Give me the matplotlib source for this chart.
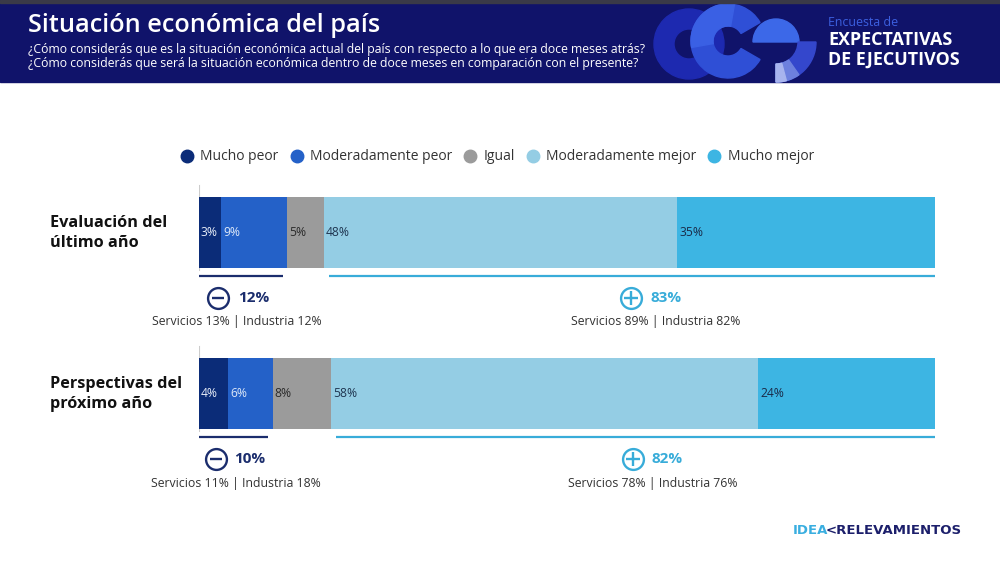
import matplotlib
matplotlib.use("Agg")
import matplotlib.pyplot as plt
from matplotlib.patches import Rectangle, Wedge
from matplotlib.lines import Line2D

plt.rcParams['font.family'] = ['Open Sans', 'DejaVu Sans']

# ---------------- data ----------------
rows = ["Evaluación del\núltimo año", "Perspectivas del\npróximo año"]
categories = ["Mucho peor", "Moderadamente peor", "Igual", "Moderadamente mejor", "Mucho mejor"]
values = [
    [3, 9, 5, 48, 35],
    [4, 6, 8, 58, 24],
]
neg_totals = [12, 10]
pos_totals = [83, 82]
neg_breakdown = ["Servicios 13% | Industria 12%", "Servicios 11% | Industria 18%"]
pos_breakdown = ["Servicios 89% | Industria 82%", "Servicios 78% | Industria 76%"]

title = "Situación económica del país"
subtitle1 = "¿Cómo considerás que es la situación económica actual del país con respecto a lo que era doce meses atrás?"
subtitle2 = "¿Cómo considerás que será la situación económica dentro de doce meses en comparación con el presente?"

# ---------------- style / layout ----------------
colors = ["#0b2c78", "#2461c8", "#9b9b9b", "#94cde4", "#3db5e3"]
label_colors = ["#e8eef8", "#dde8f8", "#2a2a2a", "#1f3550", "#1a2a48"]
navy = "#1b2d6d"
lblue = "#38acd9"
header_bg = "#10136a"
# annotation x positions (in % axis units): icon, value, breakdown center
neg_pos = [(2.6, 5.3, 5.2), (2.3, 4.8, 5.0)]
pos_pos = [(58.7, 61.3, 62.0), (59.0, 61.5, 61.7)]

W, H = 1000, 569
fig = plt.figure(figsize=(W / 100, H / 100), dpi=100)
fig.patch.set_facecolor("white")

# overlay axes in pixel coordinates for decoration (y grows downward)
fa = fig.add_axes([0, 0, 1, 1])
fa.set_xlim(0, W)
fa.set_ylim(H, 0)
fa.axis("off")

# header band
fa.add_patch(Rectangle((0, 0), W, 82, color=header_bg, zorder=0))
fa.add_patch(Rectangle((0, 0), W, 2.5, color="#3a3a48", zorder=5))
# logo shapes (approximate; angles measured with y pointing down)
fa.add_patch(Wedge((689, 44), 35, 0, 360, width=20, color="#1d29b0", zorder=1))
fa.add_patch(Wedge((728, 41), 37, 30, 330, width=22, color="#2f4fd6", zorder=2))
fa.add_patch(Wedge((728, 41), 37, 170, 280, width=22, color="#3a60e4", zorder=2))
fa.add_patch(Wedge((776, 42), 23, 180, 360, color="#3c68e8", zorder=3))
fa.add_patch(Wedge((776, 42), 40, 0, 90, width=18, color="#3447cc", zorder=3))
fa.add_patch(Wedge((776, 42), 40, 55, 90, width=18, color="#6d80de", zorder=3))
fa.add_patch(Wedge((776, 42), 40, 75, 90, width=18, color="#a8b4ee", zorder=3))

fa.text(28, 25, title, color="white", fontsize=18.2, fontweight="semibold", va="center", ha="left")
fa.text(28, 49, subtitle1, color="white", fontsize=8.8, va="center", ha="left")
fa.text(28, 63, subtitle2, color="white", fontsize=8.8, va="center", ha="left")
fa.text(828, 22, "Encuesta de", color="#3c5fe0", fontsize=8.9, va="center", ha="left")
fa.text(828, 40, "EXPECTATIVAS", color="white", fontsize=12.9, fontweight="bold", va="center", ha="left")
fa.text(828, 60, "DE EJECUTIVOS", color="white", fontsize=12.9, fontweight="bold", va="center", ha="left")

# footer logo
fa.text(793, 530, "IDEA", color="#3aaee0", fontsize=9.5, fontweight="bold", va="center", ha="left",
        family="DejaVu Sans")
fa.text(826, 530, "<RELEVAMIENTOS", color="#1c1f6b", fontsize=9.5, fontweight="bold", va="center", ha="left",
        family="DejaVu Sans")

# ---------------- bar axes ----------------
x0, x1 = 199, 935
yt, yb = 150, 500
ax = fig.add_axes([x0 / W, 1 - yb / H, (x1 - x0) / W, (yb - yt) / H])
ax.set_xlim(0, 100)
ax.set_ylim(yb, yt)
ax.axis("off")
ax.patch.set_alpha(0)

row_y = [232.5, 393.5]
bar_h = 71

for r, (yc, vals) in enumerate(zip(row_y, values)):
    left = 0
    for k, v in enumerate(vals):
        ax.barh(yc, v, left=left, height=bar_h, color=colors[k], zorder=2)
        ax.text(left + 0.25, yc, f"{v}%", color=label_colors[k], fontsize=8.7,
                va="center", ha="left", zorder=3)
        left += v
    # thin axis tick line
    ax.plot([0, 0], [yc - bar_h / 2 - 12, yc + bar_h / 2 + 2], color="#cccccc", lw=0.8, zorder=1)
    ybot = yc + bar_h / 2
    neg = neg_totals[r]
    pos = pos_totals[r]
    # underline brackets
    ax.plot([0, neg - 0.6], [ybot + 8, ybot + 8], color=navy, lw=1.6, solid_capstyle="butt")
    ax.plot([100 - pos + 0.6, 100], [ybot + 8, ybot + 8], color=lblue, lw=1.6, solid_capstyle="butt")
    cy = ybot + 30
    # negative summary
    ix, vx, bx = neg_pos[r]
    ax.plot(ix, cy, marker="o", ms=15, mfc="none", mec=navy, mew=1.7, clip_on=False)
    ax.plot(ix, cy, marker="_", ms=8.5, mec=navy, mew=1.7, clip_on=False)
    ax.text(vx, cy, f"{neg}%", color=navy, fontsize=11, fontweight="bold", va="center", ha="left")
    ax.text(bx, ybot + 54, neg_breakdown[r], color="#333333", fontsize=8.8, va="center", ha="center")
    # positive summary
    ix, vx, bx = pos_pos[r]
    ax.plot(ix, cy, marker="o", ms=15, mfc="none", mec=lblue, mew=1.7, clip_on=False)
    ax.plot(ix, cy, marker="+", ms=9.5, mec=lblue, mew=1.7, clip_on=False)
    ax.text(vx, cy, f"{pos}%", color=lblue, fontsize=11, fontweight="bold", va="center", ha="left")
    ax.text(bx, ybot + 54, pos_breakdown[r], color="#333333", fontsize=8.8, va="center", ha="center")

# row labels
for r, yc in enumerate(row_y):
    fa.text(50, yc + 0.5, rows[r], color="#111111", fontsize=11.7, fontweight="bold",
            va="center", ha="left", linespacing=1.3)

# legend
handles = [Line2D([], [], marker="o", ls="none", ms=9, mfc=c, mec=c) for c in colors]
fig.legend(handles, categories, loc="center", bbox_to_anchor=(0.497, 1 - 157 / H), ncol=5,
           frameon=False, fontsize=10, handletextpad=0.45, columnspacing=0.8, handlelength=1.0,
           labelcolor="#333333")

fig.savefig("out.png", dpi=100, facecolor="white")
